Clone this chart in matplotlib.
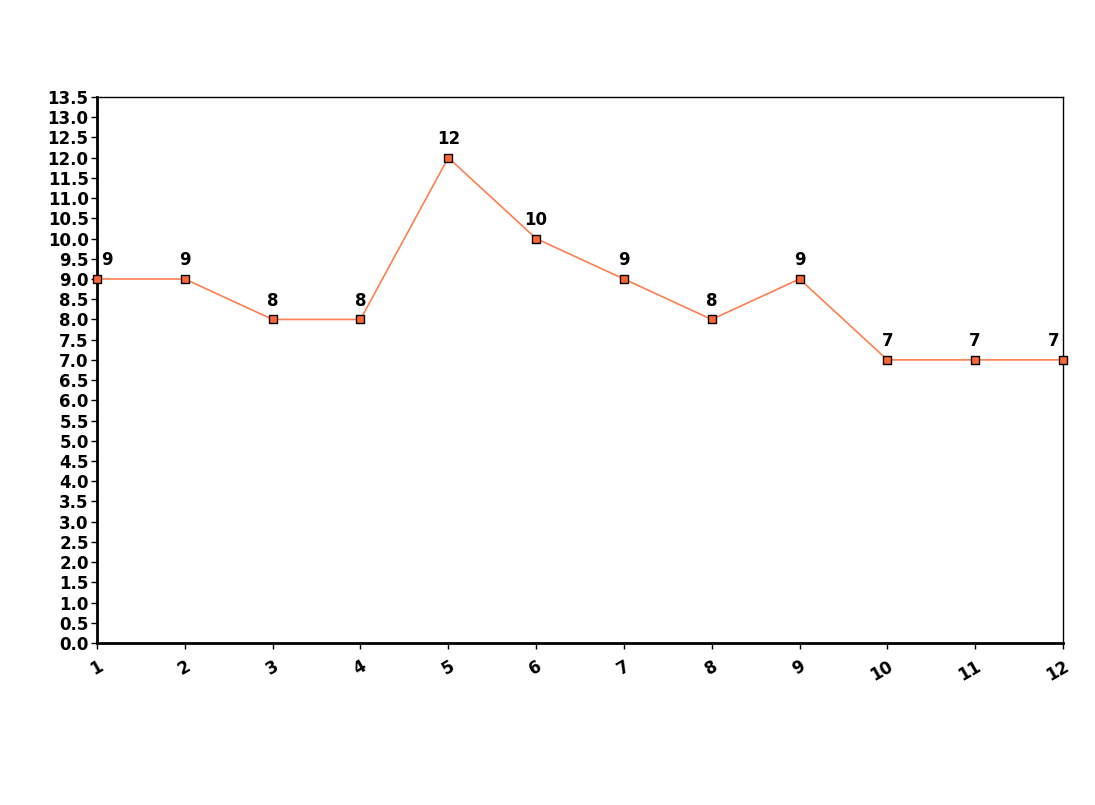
import matplotlib
matplotlib.use("Agg")
import matplotlib.pyplot as plt

categories = [1, 2, 3, 4, 5, 6, 7, 8, 9, 10, 11, 12]
values = [9, 9, 8, 8, 12, 10, 9, 8, 9, 7, 7, 7]
yticks = [i * 0.5 for i in range(28)]

FONT = "DejaVu Sans"

fig = plt.figure(figsize=(10.95, 8.05), dpi=100)
ax = fig.add_axes([97/1095, 1 - 643/805, (1063-97)/1095, (643-97)/805])

ax.plot(categories, values, color="#FF7F50", linewidth=1.2, marker="s",
        markersize=6, markerfacecolor="#FF6633", markeredgecolor="black",
        markeredgewidth=1.0, clip_on=False, zorder=3)

n = len(categories)
for i, (x, y) in enumerate(zip(categories, values)):
    dx = 0
    if i == 0:
        dx = 7
    elif i == n - 1:
        dx = -7
    ax.annotate(str(y), (x, y), xytext=(dx, 7), textcoords="offset points",
                ha="center", va="bottom", fontsize=12, fontweight="bold",
                fontfamily=FONT)

ax.set_xlim(1, 12)
ax.set_ylim(0, 13.5)
ax.set_xticks(categories)
ax.set_xticklabels([str(c) for c in categories], rotation=30, ha="right",
                   rotation_mode="anchor",
                   fontsize=12, fontweight="bold", fontfamily=FONT)
ax.set_yticks(yticks)
ax.set_yticklabels([f"{v:.1f}" for v in yticks], fontsize=12,
                   fontweight="bold", fontfamily=FONT)
ax.tick_params(axis="both", length=4, width=1, pad=2)
ax.tick_params(axis="x", pad=6)

ax.spines["left"].set_linewidth(2)
ax.spines["bottom"].set_linewidth(2)
ax.spines["top"].set_linewidth(1)
ax.spines["right"].set_linewidth(1)

fig.savefig("out.png", dpi=100)
